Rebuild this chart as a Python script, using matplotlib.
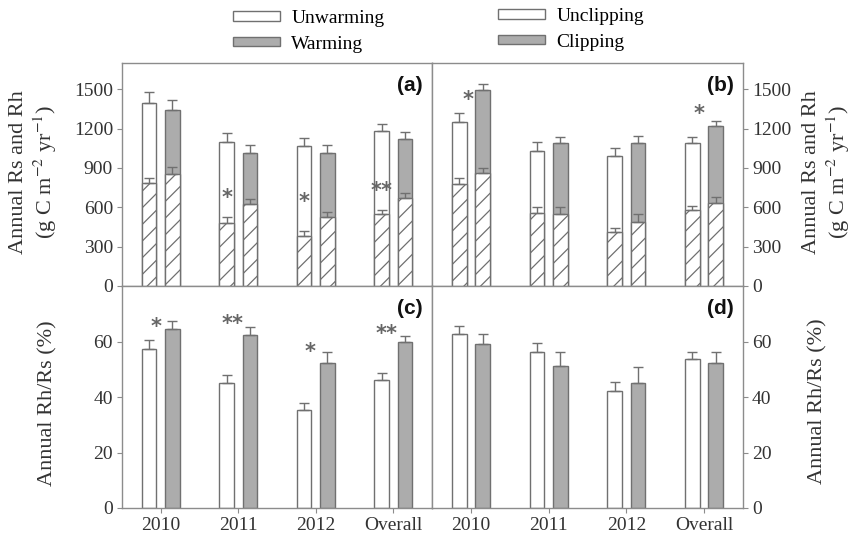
import numpy as np
import matplotlib
matplotlib.use('Agg')
import matplotlib.pyplot as plt
from matplotlib.patches import Patch

years = ['2010', '2011', '2012', 'Overall']

# (a) warming: annual Rs (total bar) and Rh (hatched part), g C m-2 yr-1
unwarm_rs = [1393, 1101, 1068, 1185]
unwarm_rs_se = [84, 64, 58, 51]
warm_rs = [1342, 1017, 1012, 1124]
warm_rs_se = [77, 58, 63, 53]
unwarm_rh = [783, 483, 381, 549]
unwarm_rh_se = [38, 41, 41, 31]
warm_rh = [852, 623, 529, 674]
warm_rh_se = [53, 43, 38, 38]

# (b) clipping
unclip_rs = [1248, 1030, 994, 1088]
unclip_rs_se = [74, 71, 56, 51]
clip_rs = [1495, 1093, 1088, 1223]
clip_rs_se = [43, 46, 58, 36]
unclip_rh = [776, 554, 414, 580]
unclip_rh_se = [45, 46, 26, 33]
clip_rh = [864, 549, 486, 631]
clip_rh_se = [33, 56, 63, 50]

# (c) Rh/Rs warming, (d) Rh/Rs clipping (%)
unwarm_ratio = [57.4, 45.1, 35.4, 46.3]
unwarm_ratio_se = [3.2, 3.0, 2.3, 2.2]
warm_ratio = [64.5, 62.4, 52.3, 59.8]
warm_ratio_se = [2.9, 2.7, 3.8, 2.3]
unclip_ratio = [62.7, 56.1, 42.1, 53.8]
unclip_ratio_se = [3.0, 3.3, 3.3, 2.4]
clip_ratio = [59.0, 51.3, 45.2, 52.3]
clip_ratio_se = [3.6, 4.8, 5.5, 3.9]

# significance marks: (group index, x offset, y, text)
stars_a = [(1, -0.15, 710, '*'), (2, -0.15, 680, '*'), (3, -0.15, 760, '**')]
stars_b = [(0, -0.04, 1457, '*'), (3, -0.06, 1350, '*')]
stars_c = [(0, -0.06, 67, '*'), (1, -0.08, 68, '**'), (2, -0.08, 58, '*'), (3, -0.09, 64.5, '**')]
stars_d = []

serif = 'Liberation Serif'
plt.rcParams['font.family'] = serif
plt.rcParams['mathtext.fontset'] = 'stix'
edge = '#707070'
grey = '#acacac'
txtc = '#333333'
plt.rcParams['hatch.color'] = '#707070'
plt.rcParams['hatch.linewidth'] = 0.9

fig = plt.figure(figsize=(8.54, 5.36), dpi=100)
W, H = 854, 536
def box(x0, y0, x1, y1):
    return [x0 / W, 1 - y1 / H, (x1 - x0) / W, (y1 - y0) / H]

ax_a = fig.add_axes(box(122, 63, 432, 286))
ax_b = fig.add_axes(box(432, 63, 743, 286))
ax_c = fig.add_axes(box(122, 286, 432, 508))
ax_d = fig.add_axes(box(432, 286, 743, 508))

x = np.arange(len(years))
off = 0.15
bw = 0.19
ekw = dict(ecolor=edge, elinewidth=1.0, capsize=3.5, capthick=1.0)

def one_side(err):
    return [np.zeros(len(err)), err]

def rs_panel(ax, c_rs, c_rs_se, t_rs, t_rs_se, c_rh, c_rh_se, t_rh, t_rh_se):
    ax.bar(x - off, c_rs, bw, color='white', edgecolor=edge, lw=1.0,
           yerr=one_side(c_rs_se), error_kw=ekw, zorder=2)
    ax.bar(x + off, t_rs, bw, color=grey, edgecolor=edge, lw=1.0,
           yerr=one_side(t_rs_se), error_kw=ekw, zorder=2)
    ax.bar(x - off, c_rh, bw, color='white', edgecolor=edge, lw=1.0, hatch='//',
           yerr=one_side(c_rh_se), error_kw=ekw, zorder=3)
    ax.bar(x + off, t_rh, bw, color='white', edgecolor=edge, lw=1.0, hatch='//',
           yerr=one_side(t_rh_se), error_kw=ekw, zorder=3)
    ax.set_ylim(0, 1700)
    ax.set_yticks([0, 300, 600, 900, 1200, 1500])

def ratio_panel(ax, c, c_se, t, t_se):
    ax.bar(x - off, c, bw, color='white', edgecolor=edge, lw=1.0,
           yerr=one_side(c_se), error_kw=ekw, zorder=2)
    ax.bar(x + off, t, bw, color=grey, edgecolor=edge, lw=1.0,
           yerr=one_side(t_se), error_kw=ekw, zorder=2)
    ax.set_ylim(0, 80)
    ax.set_yticks([0, 20, 40, 60])

rs_panel(ax_a, unwarm_rs, unwarm_rs_se, warm_rs, warm_rs_se,
         unwarm_rh, unwarm_rh_se, warm_rh, warm_rh_se)
rs_panel(ax_b, unclip_rs, unclip_rs_se, clip_rs, clip_rs_se,
         unclip_rh, unclip_rh_se, clip_rh, clip_rh_se)
ratio_panel(ax_c, unwarm_ratio, unwarm_ratio_se, warm_ratio, warm_ratio_se)
ratio_panel(ax_d, unclip_ratio, unclip_ratio_se, clip_ratio, clip_ratio_se)

for ax, lab, stars in [(ax_a, '(a)', stars_a), (ax_b, '(b)', stars_b),
                       (ax_c, '(c)', stars_c), (ax_d, '(d)', stars_d)]:
    ax.set_xlim(-0.5, 3.5)
    ax.set_xticks(x)
    for s in ax.spines.values():
        s.set_color('#8c8c8c')
        s.set_linewidth(1.0)
    ax.tick_params(colors='#8c8c8c', length=3.5, width=0.8, labelcolor=txtc,
                   labelsize=14, pad=3)
    ax.text(0.97, 0.90, lab, transform=ax.transAxes, ha='right', va='center',
            fontsize=15, fontweight='bold', family='Liberation Sans', color='#111111')
    for gi, dx, yy, txt in stars:
        ax.annotate(txt, (gi + dx, yy), xytext=(0, -5), textcoords='offset pixels',
                    ha='center', va='center', fontsize=15, fontweight='bold',
                    color='#666666', family='DejaVu Sans')

ax_a.set_xticklabels([])
ax_b.set_xticklabels([])
ax_c.set_xticklabels(years)
ax_d.set_xticklabels(years)

for ax in (ax_b, ax_d):
    ax.yaxis.tick_right()

rs_label = 'Annual Rs and Rh\n(g C m$^{-2}$ yr$^{-1}$)'
ratio_label = 'Annual Rh/Rs (%)'
ylab_kw = dict(rotation=90, ha='center', va='center', fontsize=16, color=txtc,
               linespacing=1.15)
fig.text(34 / W, 1 - 172 / H, rs_label, **ylab_kw)
fig.text(827 / W, 1 - 172 / H, rs_label, **ylab_kw)
fig.text(48 / W, 1 - 403 / H, ratio_label, **ylab_kw)
fig.text(818 / W, 1 - 401 / H, ratio_label, **ylab_kw)

leg_kw = dict(frameon=False, handlelength=2.4, handleheight=0.36, labelspacing=0.45,
              prop={'family': serif, 'size': 14}, handletextpad=0.6,
              borderaxespad=0, borderpad=0)
h1 = [Patch(facecolor='white', edgecolor=edge), Patch(facecolor=grey, edgecolor=edge)]
fig.legend(h1, ['Unwarming', 'Warming'], loc='upper left',
           bbox_to_anchor=(233 / W, 1 - 10 / H), **leg_kw)
fig.legend(h1, ['Unclipping', 'Clipping'], loc='upper left',
           bbox_to_anchor=(498 / W, 1 - 8 / H), **leg_kw)

fig.savefig('out.png', dpi=100)
